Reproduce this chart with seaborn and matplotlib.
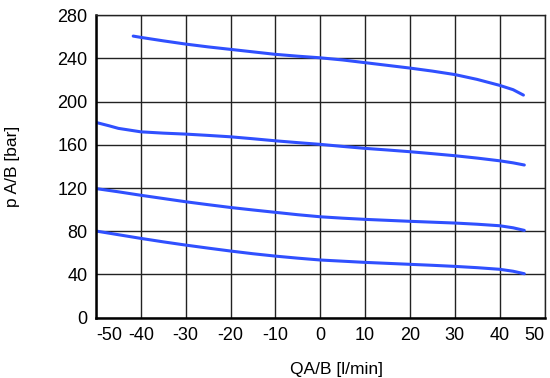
import matplotlib
matplotlib.use("Agg")
import matplotlib.pyplot as plt
import seaborn as sns
import pandas as pd

# Curve data
q1 = [-41.7, -40, -35, -30, -25, -20, -15, -10, -5, 0, 5, 10, 15, 20, 25, 30, 35, 40, 43, 45.3]
p1 = [260.6, 259.4, 256.2, 253.2, 250.6, 248.3, 246, 243.7, 242, 240.5, 238.5, 236, 233.5, 231, 228.2,
      225, 220.5, 215, 211, 206]

q2 = [-50, -47, -45, -40, -35, -30, -25, -20, -15, -10, -5, 0, 5, 10, 15, 20, 25, 30, 35, 40, 43, 45.5]
p2 = [180.7, 177.5, 175.2, 172, 170.8, 169.9, 168.7, 167.4, 165.6, 163.7, 162, 160.4, 158.5, 156.7, 155.2,
      153.6, 151.8, 149.9, 147.7, 145.2, 143.3, 141.3]

q3 = [-50, -45, -40, -35, -30, -25, -20, -15, -10, -5, 0, 5, 10, 15, 20, 25, 30, 35, 40, 43, 45.5]
p3 = [119.5, 116.5, 113.3, 110.3, 107.3, 104.6, 102, 99.7, 97.5, 95.3, 93.4, 92.1, 91, 90.1, 89.2, 88.4,
      87.6, 86.5, 85.1, 83.2, 80.8]

q4 = [-50, -45, -40, -35, -30, -25, -20, -15, -10, -5, 0, 5, 10, 15, 20, 25, 30, 35, 40, 43, 45.5]
p4 = [80.2, 76.8, 73.4, 70.2, 67.2, 64.4, 61.7, 59.2, 57, 55.1, 53.4, 52.3, 51.2, 50.3, 49.4, 48.5,
      47.5, 46.3, 44.8, 43, 40.7]

x_ticks = [-50, -40, -30, -20, -10, 0, 10, 20, 30, 40, 50]
y_ticks = [0, 40, 80, 120, 160, 200, 240, 280]

frames = []
for name, q, p in [("c1", q1, p1), ("c2", q2, p2), ("c3", q3, p3), ("c4", q4, p4)]:
    frames.append(pd.DataFrame({"q": q, "p": p, "curve": name}))
df = pd.concat(frames, ignore_index=True)

sns.set_theme(style="white")
plt.rcParams["font.family"] = ["Liberation Sans", "DejaVu Sans"]

fig = plt.figure(figsize=(5.5, 3.78), dpi=100)
ax = fig.add_axes([0.1745, 0.1595, 0.8155, 0.8005])

sns.lineplot(data=df, x="q", y="p", units="curve", estimator=None, sort=False,
             color="#3050ff", linewidth=2.2, ax=ax, legend=False)

ax.set_xlim(-50, 50)
ax.set_ylim(0, 280)
ax.set_xticks(x_ticks)
ax.set_yticks(y_ticks)
ax.set_xticklabels([str(v) for v in x_ticks])
ax.set_yticklabels([str(v) for v in y_ticks])
ax.grid(True, color="#222222", linewidth=1.0)
ax.set_axisbelow(True)
for s in ["top", "right"]:
    ax.spines[s].set_visible(True)
    ax.spines[s].set_color("#222222")
    ax.spines[s].set_linewidth(1.0)
for s in ["left", "bottom"]:
    ax.spines[s].set_color("black")
    ax.spines[s].set_linewidth(1.8)

ax.tick_params(axis="both", length=0, labelsize=13, colors="black")
ax.tick_params(axis="x", pad=7)
ax.tick_params(axis="y", pad=6)
xl = ax.get_xticklabels()
xl[0].set_ha("left")
xl[-1].set_ha("right")

ax.set_xlabel("QA/B [l/min]", fontsize=12.5, color="black")
ax.set_ylabel("p A/B [bar]", fontsize=12.5, color="black")
ax.xaxis.set_label_coords(0.537, -0.145)
ax.yaxis.set_label_coords(-0.17, 0.5)

fig.savefig("out.png", dpi=100)
